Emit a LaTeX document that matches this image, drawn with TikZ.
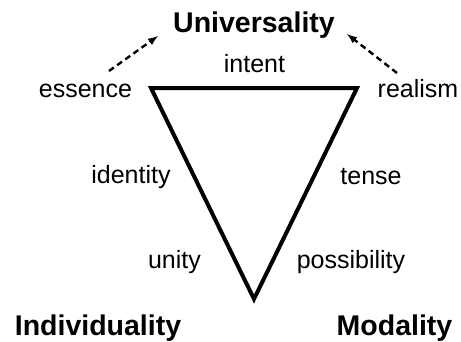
\documentclass[tikz,border=0pt]{standalone}
\usepackage{fontspec}
\setmainfont{Liberation Sans}
\usepackage{tikz}
\usetikzlibrary{arrows}

\begin{document}
\begin{tikzpicture}[x=1pt,y=-1pt]
		\tikzstyle{term}=[inner sep=0pt, anchor=base, font=\fontsize{25}{30}\selectfont]
		\tikzstyle{pole}=[term, font=\fontsize{28.5}{34}\selectfont\bfseries]
		\tikzstyle{side}=[line width=4pt, line join=miter]
		\tikzstyle{hint}=[line width=2.4pt, dash pattern=on 6pt off 4pt, -latex]

		\useasboundingbox (0,0) rectangle (461,341);

		% the three poles
		\node [pole] (univ) at (254,32) {Universality};
		\node [pole] (indiv) at (98,335) {Individuality};
		\node [pole] (modal) at (394.5,335) {Modality};

		% the triangle
		\coordinate (tl) at (151,88);
		\coordinate (tr) at (357,88);
		\coordinate (bt) at (254,299);
		\draw [side] (tl) -- (tr) -- (bt) -- cycle;

		\node [term] (intent) at (254.5,72) {intent};
		\node [term] (essence) at (85.5,97) {essence};
		\node [term] (realism) at (418,97) {realism};
		\node [term] (identity) at (131,183) {identity};
		\node [term] (tense) at (371,184) {tense};
		\node [term] (unity) at (174.5,268) {unity};
		\node [term] (possib) at (351,268) {possibility};

		% dashed hints towards Universality
		\coordinate (ess-from) at (109,71);
		\coordinate (ess-to) at (158,36);
		\coordinate (rea-from) at (397,73);
		\coordinate (rea-to) at (347,34);
		\draw [hint] (ess-from) -- (ess-to);
		\draw [hint] (rea-from) -- (rea-to);
	\end{tikzpicture}
\end{document}
